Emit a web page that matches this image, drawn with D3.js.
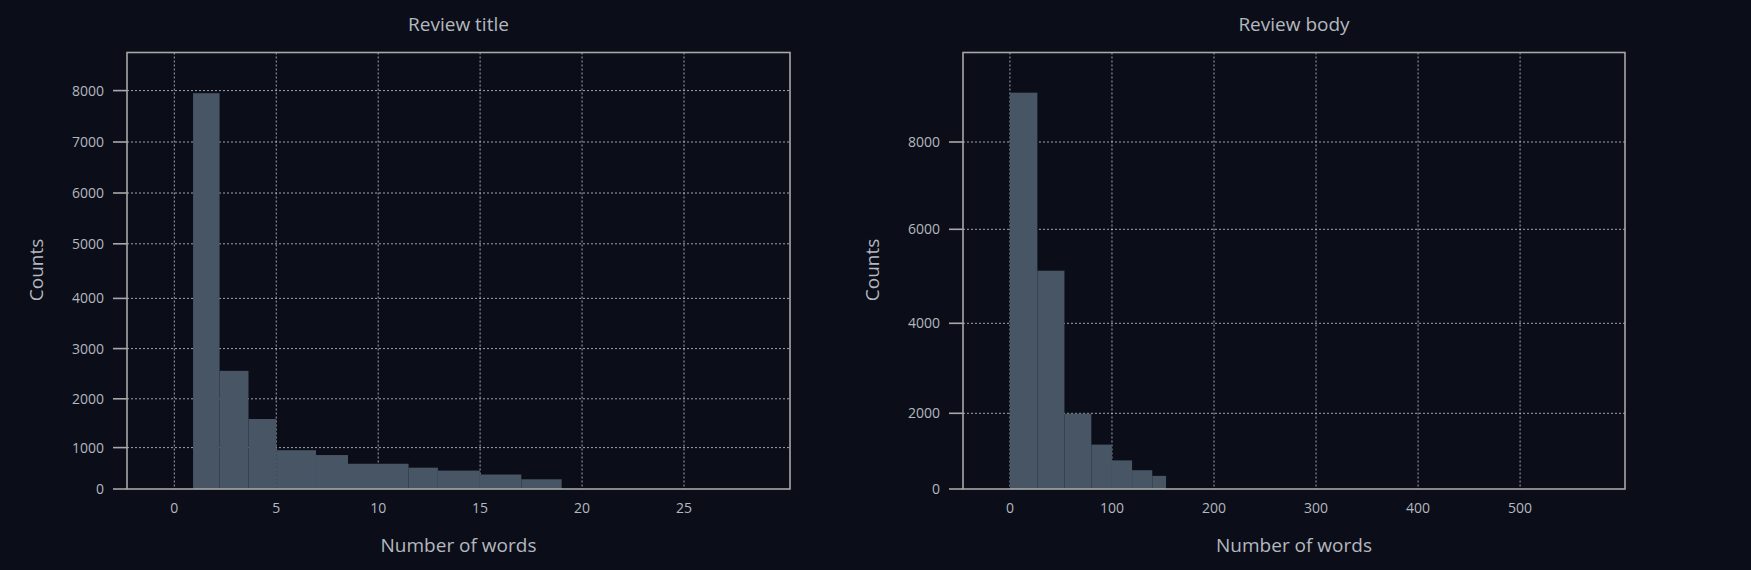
<!DOCTYPE html>
<html><head><meta charset="utf-8">
<script src="https://cdn.jsdelivr.net/npm/d3@7"></script>
<style>
body{margin:0;background:#0b0e19;}
text{font-family:"Open Sans","Noto Sans",sans-serif;fill:#b4b8bf;}
</style></head>
<body><svg id="c" width="1751" height="570"></svg>
<script>
// histogram bin edges and counts
var titleEdges = [0.92, 2.22, 3.64, 5.0, 6.95, 8.52, 11.49, 12.93, 14.99, 17.02, 19.0];
var titleCounts = [7950, 2557, 1586, 937, 820, 610, 515, 445, 350, 235];
var bodyEdges = [0, 26.9, 53.4, 79.8, 100, 119.7, 139.5, 153];
var bodyCounts = [9130, 5119, 1990, 1173, 756, 496, 347];

var titleXTicks = [0, 5, 10, 15, 20, 25];
var titleYTicks = [0, 1000, 2000, 3000, 4000, 5000, 6000, 7000, 8000];
var bodyXTicks = [0, 100, 200, 300, 400, 500];
var bodyYTicks = [0, 2000, 4000, 6000, 8000];

var svg = d3.select('#c');

function panel(opt) {
	var g = svg.append('g');
	var x = d3.scaleLinear().domain(opt.xdom).range([opt.left, opt.right]);
	// tick spacing in the source is not perfectly even, so map tick values to their pixel rows
	var y = d3.scaleLinear().domain(opt.yTicks).range(opt.yPix);
	var top = 52.5, bottom = 489;

	// grid
	g.selectAll('.gx').data(opt.xTicks).enter().append('line')
		.attr('x1', d => x(d)).attr('x2', d => x(d))
		.attr('y1', top).attr('y2', bottom)
		.attr('stroke', '#c8ccd2').attr('stroke-width', 0.8).attr('stroke-dasharray', '2,2');
	g.selectAll('.gy').data(opt.yTicks.filter(d => d > 0)).enter().append('line')
		.attr('x1', opt.left).attr('x2', opt.right)
		.attr('y1', d => y(d)).attr('y2', d => y(d))
		.attr('stroke', '#c8ccd2').attr('stroke-width', 0.8).attr('stroke-dasharray', '2,2');

	// bars
	var bins = opt.counts.map((c, i) => ({x0: opt.edges[i], x1: opt.edges[i + 1], c: c}));
	g.selectAll('.bar').data(bins).enter().append('rect')
		.attr('x', d => x(d.x0)).attr('width', d => x(d.x1) - x(d.x0))
		.attr('y', d => y(d.c)).attr('height', d => y(0) - y(d.c))
		.attr('fill', '#475565');

	// frame
	g.append('rect').attr('x', opt.left).attr('y', top)
		.attr('width', opt.right - opt.left).attr('height', bottom - top)
		.attr('fill', 'none').attr('stroke', '#a8a8a8').attr('stroke-width', 1.6);

	// y ticks
	g.selectAll('.ty').data(opt.yTicks).enter().append('line')
		.attr('x1', opt.left - 14).attr('x2', opt.left)
		.attr('y1', d => y(d)).attr('y2', d => y(d))
		.attr('stroke', '#a8a8a8').attr('stroke-width', 1.6);
	g.selectAll('.ly').data(opt.yTicks).enter().append('text')
		.attr('x', opt.left - 23).attr('y', d => y(d)).attr('dy', '0.35em')
		.attr('text-anchor', 'end').attr('font-size', 14).text(d => d);
	// x tick labels
	g.selectAll('.lx').data(opt.xTicks).enter().append('text')
		.attr('x', d => x(d)).attr('y', 513)
		.attr('text-anchor', 'middle').attr('font-size', 14).text(d => d);

	var cx = (opt.left + opt.right) / 2;
	g.append('text').attr('x', cx).attr('y', 31).attr('text-anchor', 'middle')
		.attr('font-size', 19).text(opt.title);
	g.append('text').attr('x', cx).attr('y', 552).attr('text-anchor', 'middle')
		.attr('font-size', 19).text('Number of words');
	g.append('text').attr('transform', 'translate(' + (opt.left - 84) + ',270) rotate(-90)')
		.attr('text-anchor', 'middle').attr('font-size', 19).text('Counts');
}

panel({
	title: 'Review title', left: 127, right: 790, xdom: [-2.32, 30.2],
	edges: titleEdges, counts: titleCounts, xTicks: titleXTicks, yTicks: titleYTicks,
	yPix: [489, 447.6, 398.8, 348.6, 298.4, 243.8, 193, 142, 90.6]
});
panel({
	title: 'Review body', left: 963, right: 1625, xdom: [-46, 602.8],
	edges: bodyEdges, counts: bodyCounts, xTicks: bodyXTicks, yTicks: bodyYTicks,
	yPix: [489, 413.3, 323.3, 229.3, 142]
});
</script></body></html>
